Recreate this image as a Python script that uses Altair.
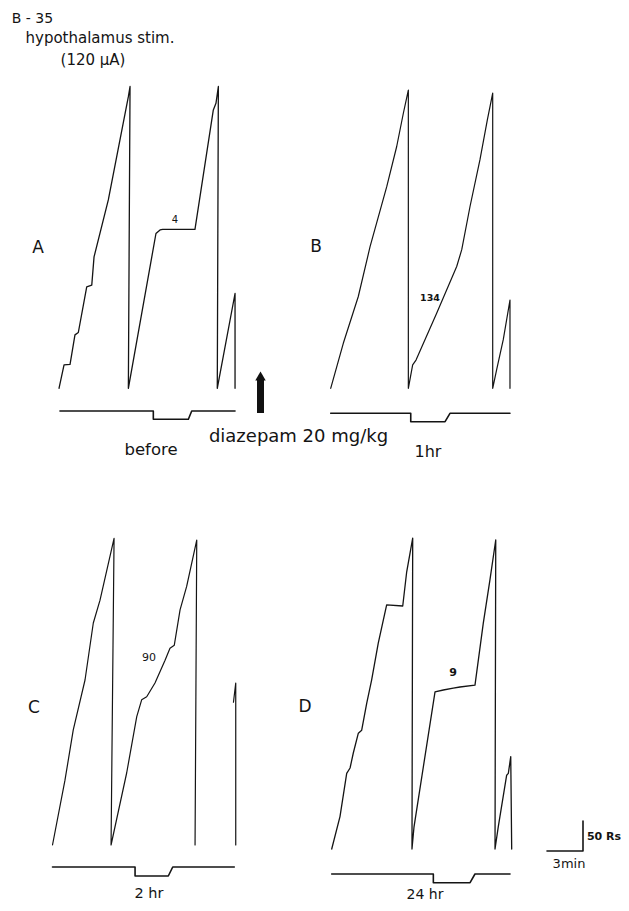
import altair as alt
import pandas as pd

# ---------------- data: cumulative records (time in min, responses since pen reset) -------------
A_t = [0, 0.42, 0.92, 1.33, 1.61, 2.31, 2.73, 2.92, 4.11, 5.78, 5.92, 5.78,
       8.08, 8.42, 8.64, 11.33, 12.86, 13.08, 13.28, 13.19, 14.67, 14.67]
A_r = [0, 39, 40, 89, 93, 169, 172, 219, 314, 486, 503, 0,
       258, 264, 265, 265, 464, 475, 503, 0, 158, 0]

B_t = [0, 1.05, 2.30, 3.28, 4.67, 5.50, 6.05, 6.47, 6.47, 6.83, 7.11, 8.83, 10.5,
       10.92, 11.61, 12.44, 13.05, 13.5, 13.5, 13.83, 14.38, 14.94, 14.94]
B_r = [0, 75, 153, 236, 336, 403, 458, 497, 0, 39, 47, 125, 203,
       231, 303, 381, 447, 492, 0, 31, 81, 147, 0]

C_t = [0, 1.04, 1.73, 2.71, 3.40, 3.96, 5.13, 4.88, 6.18, 7.02, 7.43, 7.85, 8.54,
       9.38, 9.79, 10.15, 10.63, 11.18, 12.02, 11.88]
C_r = [0, 108, 192, 275, 370, 408, 511, 0, 120, 214, 242, 247, 270,
       308, 328, 333, 392, 431, 508, 0]
C3_t = [15.08, 15.27, 15.27]
C3_r = [238, 270, 0]

D_t = [0, 0.69, 1.25, 1.53, 1.80, 2.22, 2.50, 2.92, 3.33, 3.88, 4.58, 5.92, 6.25, 6.75, 6.69,
       6.86, 8.61, 9.30, 10.13, 10.69, 11.94, 12.63, 13.19, 13.67, 13.61,
       13.88, 14.58, 14.72, 14.92, 15.0]
D_r = [0, 54, 126, 135, 160, 193, 198, 243, 282, 343, 407, 405, 462, 518, 0,
       37, 262, 265, 268, 270, 273, 376, 449, 515, 0,
       37, 123, 126, 154, 0]

# event pen (1 = up, 0 = deflected)
EV_state = [1, 1, 0, 0, 1, 1]
A_ev_t = [0.08, 7.86, 7.86, 10.78, 11.06, 14.67]
B_ev_t = [0.0, 6.67, 6.67, 9.53, 9.94, 14.94]
C_ev_t = [0.0, 6.88, 6.88, 9.65, 10.02, 15.15]
D_ev_t = [0.0, 8.47, 8.47, 11.53, 11.94, 14.86]

# calibration bar
SCALE_MIN = 3
SCALE_RS = 50

# text content
HEADER = ["B - 35", "hypothalamus stim.", "(120 µA)"]
PANEL_LETTERS = ["A", "B", "C", "D"]
NUMBERS = ["4", "134", "90", "9"]
CONDITIONS = ["before", "1hr", "2 hr", "24 hr"]
DRUG = "diazepam 20 mg/kg"
SCALE_TXT = ["50 Rs", "3min"]

# ---------------- layout ----------------
W, H, MARGIN = 613, 895, 8
PX_PER_MIN = 12.0
PX_PER_R = 0.6
XMAX = W / PX_PER_MIN
YMAX = H / PX_PER_R

ORIGIN = {"A": (59, 388.3), "B": (330.7, 388.3), "C": (52.5, 845), "D": (331.7, 849)}
EVENT_Y = {"A": (411, 419.3), "B": (413.3, 421.7), "C": (867, 876), "D": (874, 882.7)}
SCALE_CORNER = (583, 851)


def gx_page(xp):
    return (xp - MARGIN) / PX_PER_MIN


def gy_page(yp):
    return (MARGIN + H - yp) / PX_PER_R


rows = []


def add_line(key, ts, rs, panel, width):
    ox, oy = gx_page(ORIGIN[panel][0]), gy_page(ORIGIN[panel][1])
    for i, (t, r) in enumerate(zip(ts, rs)):
        rows.append({"seg": key, "i": i, "x": ox + t, "y": oy + r, "w": width})


add_line("A", A_t, A_r, "A", 1.3)
add_line("B", B_t, B_r, "B", 1.2)
add_line("C", C_t, C_r, "C", 1.2)
add_line("C3", C3_t, C3_r, "C", 1.2)
add_line("D", D_t, D_r, "D", 1.3)

for p, evt in zip("ABCD", [A_ev_t, B_ev_t, C_ev_t, D_ev_t]):
    ox = gx_page(ORIGIN[p][0])
    hi, lo = gy_page(EVENT_Y[p][0]), gy_page(EVENT_Y[p][1])
    for i, (t, s) in enumerate(zip(evt, EV_state)):
        rows.append({"seg": "ev" + p, "i": i, "x": ox + t, "y": hi if s else lo, "w": 1.6})

cx, cy = gx_page(SCALE_CORNER[0]), gy_page(SCALE_CORNER[1])
for i, (x, y) in enumerate([(cx - SCALE_MIN, cy), (cx, cy), (cx, cy + SCALE_RS)]):
    rows.append({"seg": "scale", "i": i, "x": x, "y": y, "w": 1.6})

df = pd.DataFrame(rows)

xs = alt.Scale(domain=[0, XMAX], nice=False, zero=False)
ys = alt.Scale(domain=[0, YMAX], nice=False, zero=False)

lines = alt.Chart(df).mark_line(color="#141414", strokeJoin="round", strokeCap="round").encode(
    x=alt.X("x:Q", scale=xs, axis=None),
    y=alt.Y("y:Q", scale=ys, axis=None),
    detail="seg:N",
    order="i:Q",
    strokeWidth=alt.StrokeWidth("w:Q", scale=None, legend=None),
)

# text annotations (page pixel centres): text, x, y, font size, weight
txt_items = [
    (HEADER[0], 32.5, 19, 14, "normal"),
    (HEADER[1], 100, 38, 15, "normal"),
    (HEADER[2], 93, 60, 15, "normal"),
    (PANEL_LETTERS[0], 38, 248, 17, "normal"),
    (PANEL_LETTERS[1], 316, 247, 17, "normal"),
    (PANEL_LETTERS[2], 34, 708, 17, "normal"),
    (PANEL_LETTERS[3], 305, 707, 17, "normal"),
    (NUMBERS[0], 175, 220, 10, "normal"),
    (NUMBERS[1], 430, 298, 9.5, "bold"),
    (NUMBERS[2], 149, 658, 11, "normal"),
    (NUMBERS[3], 453, 673, 11, "bold"),
    (CONDITIONS[0], 151, 450, 16.5, "normal"),
    (CONDITIONS[1], 428, 452, 16, "normal"),
    (CONDITIONS[2], 149, 894, 14.5, "normal"),
    (CONDITIONS[3], 425, 895, 14, "normal"),
    (DRUG, 298.5, 437, 18, "normal"),
    (SCALE_TXT[0], 604, 837, 11, "bold"),
    (SCALE_TXT[1], 569, 864, 13, "normal"),
]
tdf = pd.DataFrame([{"text": s, "px": x - MARGIN, "py": y - MARGIN, "fs": f, "fw": w}
                    for s, x, y, f, w in txt_items])

def text_layer(weight):
    return alt.Chart(tdf).transform_filter(alt.datum.fw == weight).mark_text(
        font="DejaVu Sans", color="#141414", align="center", baseline="middle", fontWeight=weight
    ).encode(
        x=alt.X("px:Q", scale=None),
        y=alt.Y("py:Q", scale=None),
        text="text:N",
        size=alt.Size("fs:Q", scale=None, legend=None),
    )

one = pd.DataFrame({"k": [0]})
arrow_shaft = alt.Chart(one).mark_rule(color="#111", strokeWidth=7).encode(
    x=alt.value(260.5 - MARGIN), y=alt.value(379 - MARGIN), y2=alt.value(413 - MARGIN)
)
arrow_head = alt.Chart(one).mark_point(shape="triangle-up", filled=True, color="#111", size=110, opacity=1).encode(
    x=alt.value(260.5 - MARGIN), y=alt.value(376 - MARGIN)
)

chart = alt.layer(lines, arrow_shaft, arrow_head, text_layer("normal"), text_layer("bold")).properties(
    width=W, height=H, autosize=alt.AutoSizeParams(type="none"), padding=0, background="white"
).configure_view(stroke=None)

chart.save("out.html", embed_options={"renderer": "svg", "actions": False})
